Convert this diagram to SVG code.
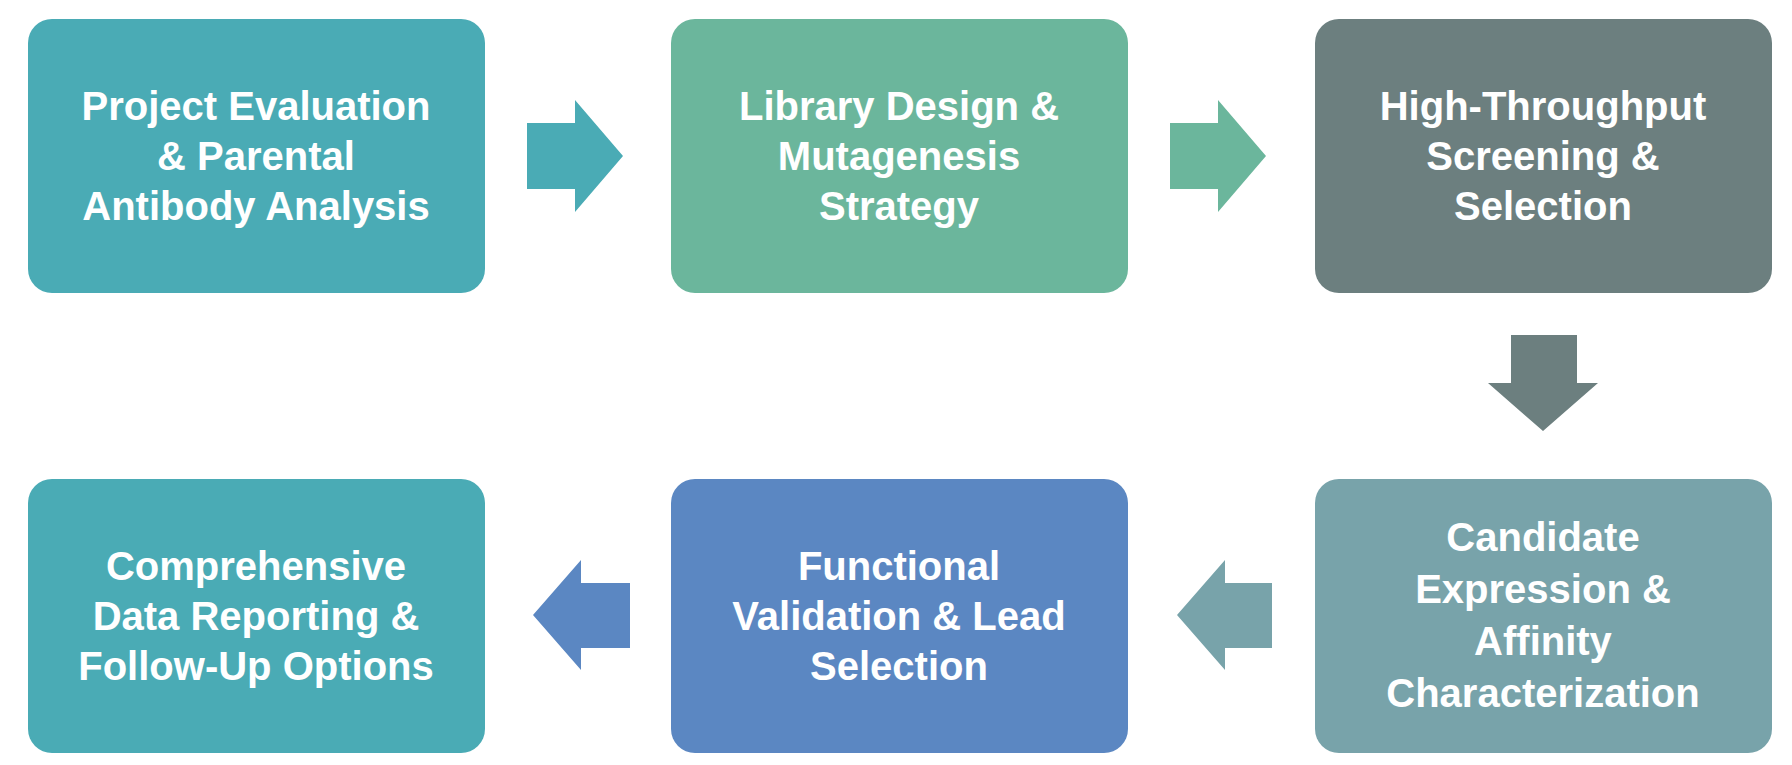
<svg xmlns="http://www.w3.org/2000/svg" width="1792" height="765" viewBox="0 0 1792 765">
<style>
text{font-family:"Liberation Sans",Arial,sans-serif;font-weight:bold;font-size:40px;fill:#fff;text-anchor:middle}
</style>
<rect width="1792" height="765" fill="#fff"/>
<g id="n1"><rect x="28" y="19" width="457" height="274" rx="24" fill="#4AABB5"/>
<text x="256" y="120">Project Evaluation</text><text x="256" y="170">&amp; Parental</text><text x="256" y="220">Antibody Analysis</text></g>
<g id="n2"><rect x="671" y="19" width="457" height="274" rx="24" fill="#6BB69C"/>
<text x="899" y="120">Library Design &amp;</text><text x="899" y="170">Mutagenesis</text><text x="899" y="220">Strategy</text></g>
<g id="n3"><rect x="1315" y="19" width="457" height="274" rx="24" fill="#6C7F7F"/>
<text x="1543" y="120">High-Throughput</text><text x="1543" y="170">Screening &amp;</text><text x="1543" y="220">Selection</text></g>
<g id="n4"><rect x="1315" y="479" width="457" height="274" rx="24" fill="#78A3AA"/>
<text x="1543" y="551">Candidate</text><text x="1543" y="603">Expression &amp;</text><text x="1543" y="655">Affinity</text><text x="1543" y="707">Characterization</text></g>
<g id="n5"><rect x="671" y="479" width="457" height="274" rx="24" fill="#5B87C2"/>
<text x="899" y="580">Functional</text><text x="899" y="630">Validation &amp; Lead</text><text x="899" y="680">Selection</text></g>
<g id="n6"><rect x="28" y="479" width="457" height="274" rx="24" fill="#4AABB5"/>
<text x="256" y="580">Comprehensive</text><text x="256" y="630">Data Reporting &amp;</text><text x="256" y="680">Follow-Up Options</text></g>
<g id="connectors">
<polygon points="527,123 575,123 575,100 623,156 575,212 575,189 527,189" fill="#4AABB5"/>
<polygon points="1170,123 1218,123 1218,100 1266,156 1218,212 1218,189 1170,189" fill="#6BB69C"/>
<polygon points="1511,335 1577,335 1577,383 1598,383 1543,431 1488,383 1511,383" fill="#6C7F7F"/>
<polygon points="1272,583 1225,583 1225,560 1177,615 1225,670 1225,648 1272,648" fill="#78A3AA"/>
<polygon points="630,583 581,583 581,560 533,615 581,670 581,648 630,648" fill="#5B87C2"/>
</g>
</svg>
